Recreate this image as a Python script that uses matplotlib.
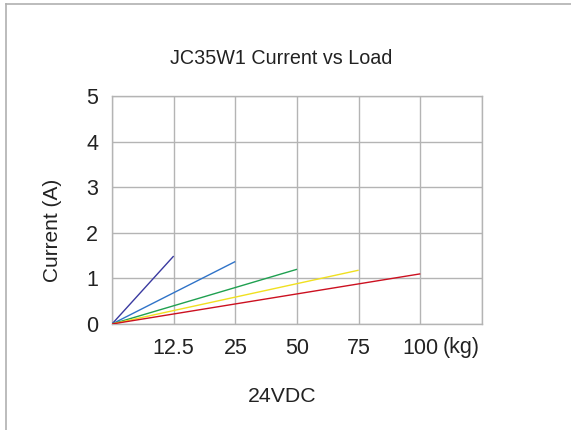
import matplotlib
matplotlib.use("Agg")
import matplotlib.pyplot as plt
from matplotlib.lines import Line2D

plt.rcParams['font.family'] = ['Liberation Sans', 'DejaVu Sans']

# Data
tick_labels = ["12.5", "25", "50", "75", "100"]
series_x_end = [1, 2, 3, 4, 5]          # category index of each series' end (12.5, 25, 50, 75, 100 kg)
series_current = [1.49, 1.37, 1.2, 1.18, 1.1]
series_colors = ["#3a3aa0", "#2f73c8", "#1fa050", "#f0e020", "#cc1020"]

fig = plt.figure(figsize=(5.71, 4.30), dpi=100)
ax = fig.add_axes([112/571, 1 - 324/430, 370/571, 228/430])

for xe, ye, c in zip(series_x_end, series_current, series_colors):
    ax.plot([0, xe], [0, ye], color=c, lw=1.0, solid_capstyle='butt', zorder=3)

ax.set_xlim(0, 6)
ax.set_ylim(0, 5)
ax.set_yticks([0, 1, 2, 3, 4, 5])
ax.set_xticks([0, 1, 2, 3, 4, 5, 6])
ax.set_xticklabels([""] + tick_labels + [""])
ax.tick_params(axis='both', length=0, labelsize=15.5, colors='#222222')
ax.tick_params(axis='x', pad=10)
ax.tick_params(axis='y', pad=10)
ax.grid(True, color='#b4b4b4', lw=1.0, zorder=0)
for s in ax.spines.values():
    s.set_color('#b4b4b4')
    s.set_linewidth(1.0)

ax.annotate("(kg)", xy=(5, 0), xycoords=('data', 'axes fraction'),
            xytext=(16, -9.5), textcoords='offset points',
            ha='left', va='top', fontsize=15.5, color='#222222')

fig.text(281/571, 1 - 58/430, "JC35W1 Current vs Load", ha='center', va='center',
         fontsize=14.2, color='#222222')
fig.text(52/571, 1 - 230/430, "Current (A)", ha='center', va='center',
         rotation=90, fontsize=15, color='#222222')
fig.text(282/571, 1 - 397/430, "24VDC", ha='center', va='center',
         fontsize=15.3, color='#222222')

# partial frame lines (top and left) of the original image border
fig.add_artist(Line2D([6/571, 1], [1 - 3.5/430, 1 - 3.5/430], transform=fig.transFigure,
                      color='#b0b0b0', lw=1.2))
fig.add_artist(Line2D([6/571, 6/571], [0, 1 - 3.5/430], transform=fig.transFigure,
                      color='#b0b0b0', lw=1.2))

fig.savefig("out.png", dpi=100)
